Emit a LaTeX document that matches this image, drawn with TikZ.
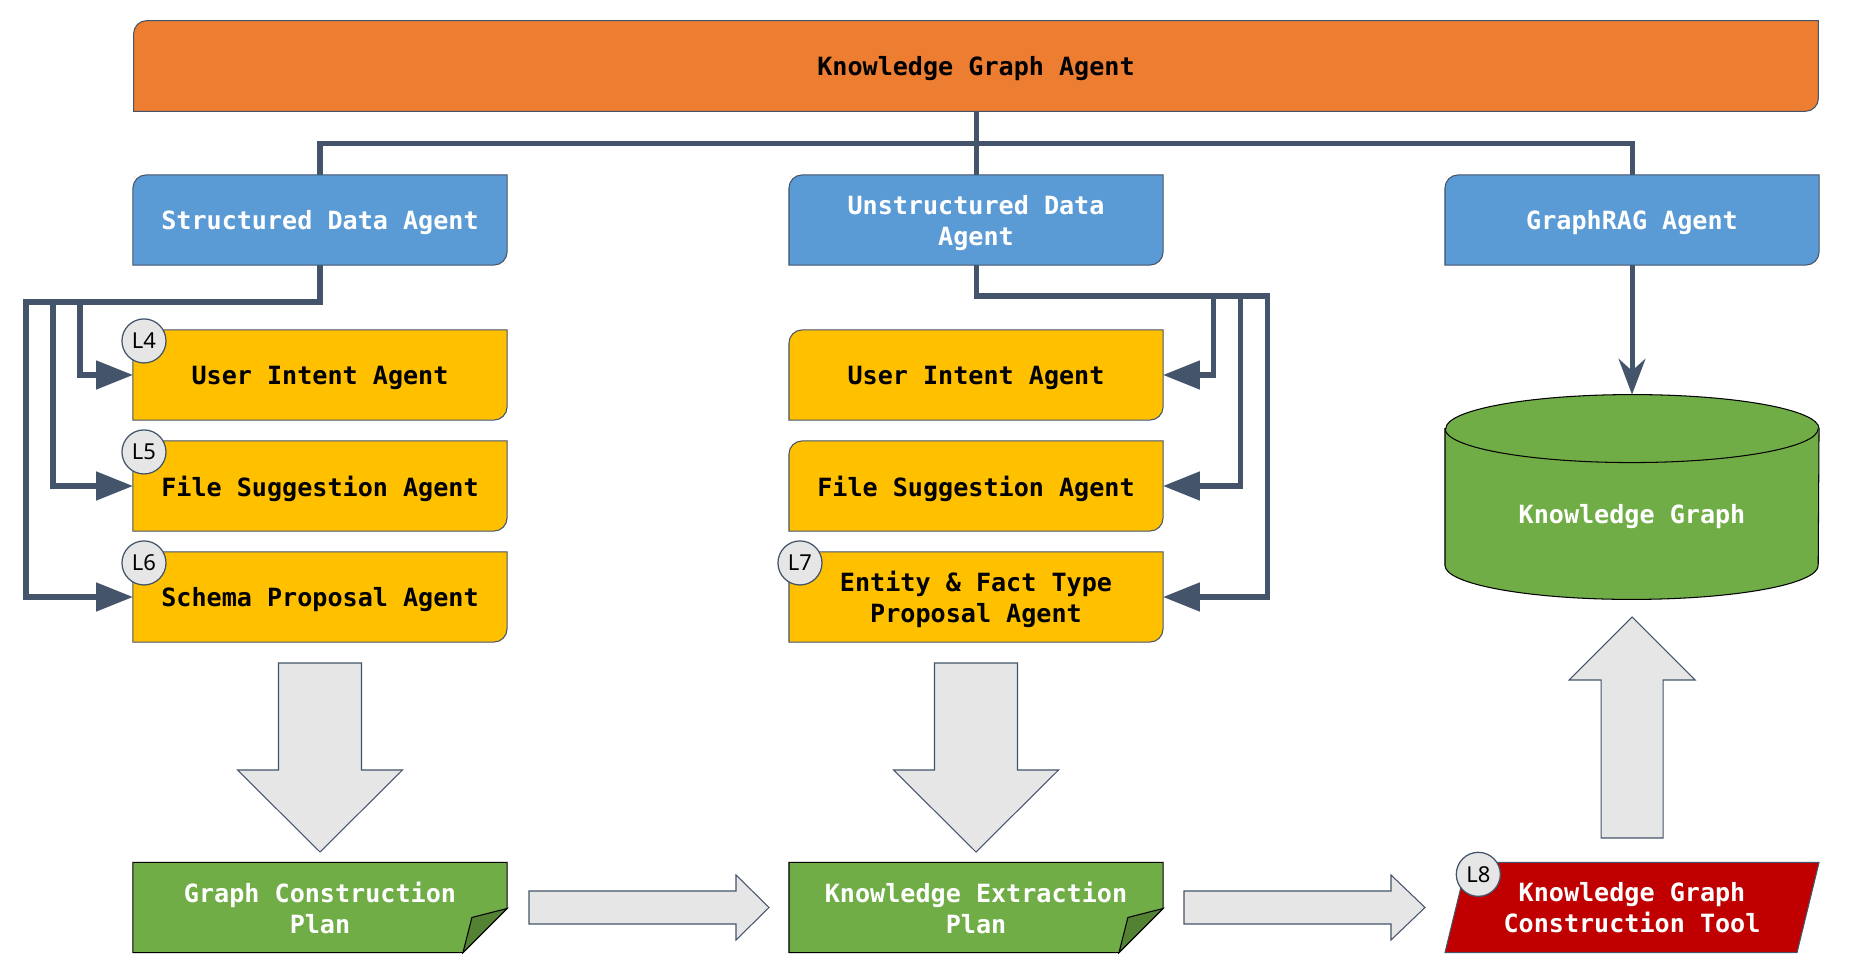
\documentclass[tikz,border=0pt]{standalone}
\usepackage{fontspec}
\usetikzlibrary{arrows.meta}
\usetikzlibrary{backgrounds}
\newfontfamily\agentfont{DejaVu Sans Mono}
\newfontfamily\badgefont{Noto Sans}
\definecolor{kgorange}{HTML}{ED7D31}
\definecolor{kgblue}{HTML}{5B9BD5}
\definecolor{kgyellow}{HTML}{FFC000}
\definecolor{kggreen}{HTML}{70AD47}
\definecolor{kgfold}{HTML}{548235}
\definecolor{kgred}{HTML}{C00000}
\definecolor{slate}{HTML}{44546A}
\definecolor{arrowgray}{HTML}{E7E6E6}
\definecolor{badgegray}{HTML}{E6E6E6}
\tikzset{
  boxtext/.style={minimum width=6.27cm,minimum height=1.5cm,inner sep=0,align=center,
    font=\agentfont\bfseries\fontsize{12}{14.8}\selectfont},
  agent/.style={boxtext,text depth=-1pt},
  output/.style={boxtext,text=white},
  badge/.style={circle,draw=slate,fill=badgegray,line width=0.6pt,minimum size=0.74cm,inner sep=0,
    font=\badgefont\fontsize{10.5}{12}\selectfont},
  link/.style={draw=slate,line width=2.4pt},
  tip/.style={-{Triangle[length=0.62cm,width=0.47cm]}},
  blockarrow/.style={draw=slate,fill=arrowgray,line width=0.5pt},
}
% box with rounded top left and bottom right corners
\newcommand{\agentbox}[2]{\path[draw=slate,fill=#2,line width=0.5pt] (#1.north east) -- ([yshift=0.22cm]#1.south east)
  arc[start angle=0,end angle=-90,radius=0.22cm] -- (#1.south west) -- ([yshift=-0.22cm]#1.north west)
  arc[start angle=180,end angle=90,radius=0.22cm] -- cycle;}
% box with a curled bottom right corner
\newcommand{\planbox}[1]{\path[draw=black,fill=kggreen,line width=0.5pt] (#1.north west) -- (#1.north east)
  -- ([yshift=0.74cm]#1.south east) -- ([xshift=-0.74cm]#1.south east) -- (#1.south west) -- cycle;
  \path[draw=black,fill=kgfold,line width=0.5pt] ([yshift=0.74cm]#1.south east) -- ([xshift=-0.59cm,yshift=0.59cm]#1.south east)
  -- ([xshift=-0.74cm]#1.south east) -- cycle;}
\begin{document}
\begin{tikzpicture}[x=0.0168cm,y=0.0168cm]
\useasboundingbox (0,0) rectangle (1855,-970);
% agents
\node[agent,minimum width=28.29cm,minimum height=1.51cm] (kga) at (976,-66) {Knowledge Graph Agent};
\node[agent,text=white] (sda) at (320,-220) {Structured Data Agent};
\node[agent,text=white] (uda) at (976,-220) {Unstructured Data\\Agent};
\node[agent,text=white] (gra) at (1632,-220) {GraphRAG Agent};
\node[agent] (sui) at (320,-375) {User Intent Agent};
\node[agent] (sfs) at (320,-486) {File Suggestion Agent};
\node[agent] (ssp) at (320,-597) {Schema Proposal Agent};
\node[agent] (uui) at (976,-375) {User Intent Agent};
\node[agent] (ufs) at (976,-486) {File Suggestion Agent};
\node[agent] (uef) at (976,-597) {Entity \& Fact Type\\Proposal Agent};
% outputs
\node[output] (gcp) at (320,-907.5) {Graph Construction\\Plan};
\node[output] (kep) at (976,-907.5) {Knowledge Extraction\\Plan};
\node[output] (kgt) at (1632,-907.5) {Knowledge Graph\\Construction Tool};
\node[agent,text=white,minimum height=2.856cm] (kg) at (1632,-514) {Knowledge Graph};
% level badges
\node[badge] (l4) at ([shift={(0.185cm,-0.185cm)}]sui.north west) {L4};
\node[badge] (l5) at ([shift={(0.185cm,-0.185cm)}]sfs.north west) {L5};
\node[badge] (l6) at ([shift={(0.185cm,-0.185cm)}]ssp.north west) {L6};
\node[badge] (l7) at ([shift={(0.185cm,-0.185cm)}]uef.north west) {L7};
\node[badge] (l8) at ([shift={(0.56cm,-0.2cm)}]kgt.north west) {L8};
% shapes behind the texts
\begin{scope}[on background layer]
\foreach \n/\c in {kga/kgorange,sda/kgblue,uda/kgblue,gra/kgblue,sui/kgyellow,sfs/kgyellow,
  ssp/kgyellow,uui/kgyellow,ufs/kgyellow,uef/kgyellow}
  \agentbox{\n}{\c};
\planbox{gcp}
\planbox{kep}
\path[draw=slate,fill=kgred,line width=0.5pt] ([xshift=0.37cm]kgt.north west) -- (kgt.north east)
  -- ([xshift=-0.37cm]kgt.south east) -- (kgt.south west) -- cycle;
\path[draw=black,fill=kggreen,line width=0.5pt] (kg.north west) -- ([yshift=0.571cm]kg.south west)
  arc[start angle=180,end angle=360,x radius=3.135cm,y radius=0.571cm] -- (kg.north east)
  arc[start angle=0,end angle=180,x radius=3.135cm,y radius=0.571cm] -- cycle;
\draw[black,line width=0.5pt] (kg.north west) arc[start angle=180,end angle=360,x radius=3.135cm,y radius=0.571cm];
\end{scope}
% connectors
\draw[link] (sda.north) -- ++(0,31) -| (gra.north);
\draw[link] (kga.south) -- (uda.north);
\coordinate (sj) at (26,-302);
\coordinate (sj1) at (80,-302);
\coordinate (sj2) at (53,-302);
\draw[link,tip] (sda.south) |- (sj) |- (ssp.west);
\draw[link,tip] (sj1) |- (sui.west);
\draw[link,tip] (sj2) |- (sfs.west);
\coordinate (uj) at (1267,-296);
\coordinate (uj1) at (1213,-296);
\coordinate (uj2) at (1240,-296);
\draw[link,tip] (uda.south) |- (uj) |- (uef.east);
\draw[link,tip] (uj1) |- (uui.east);
\draw[link,tip] (uj2) |- (ufs.east);
\draw[link,-{Stealth[length=0.6cm,width=0.45cm,inset=0.2cm]}] (gra.south) -- ([yshift=0.571cm]kg.north);
% block arrows
\foreach \cx in {320,976}
  \draw[blockarrow] (\cx-41.5,-663) -- (\cx+41.5,-663) -- (\cx+41.5,-770) -- (\cx+82.5,-770)
    -- (\cx,-852) -- (\cx-82.5,-770) -- (\cx-41.5,-770) -- cycle;
\foreach \sx/\bx/\tx in {529/736/769,1184/1391/1425}
  \draw[blockarrow] (\sx,-891) -- (\bx,-891) -- (\bx,-875) -- (\tx,-907.5) -- (\bx,-940)
    -- (\bx,-924) -- (\sx,-924) -- cycle;
\draw[blockarrow] (1601,-838) -- (1601,-680) -- (1569,-680) -- (1632,-617) -- (1695,-680)
  -- (1663,-680) -- (1663,-838) -- cycle;
\end{tikzpicture}
\end{document}
